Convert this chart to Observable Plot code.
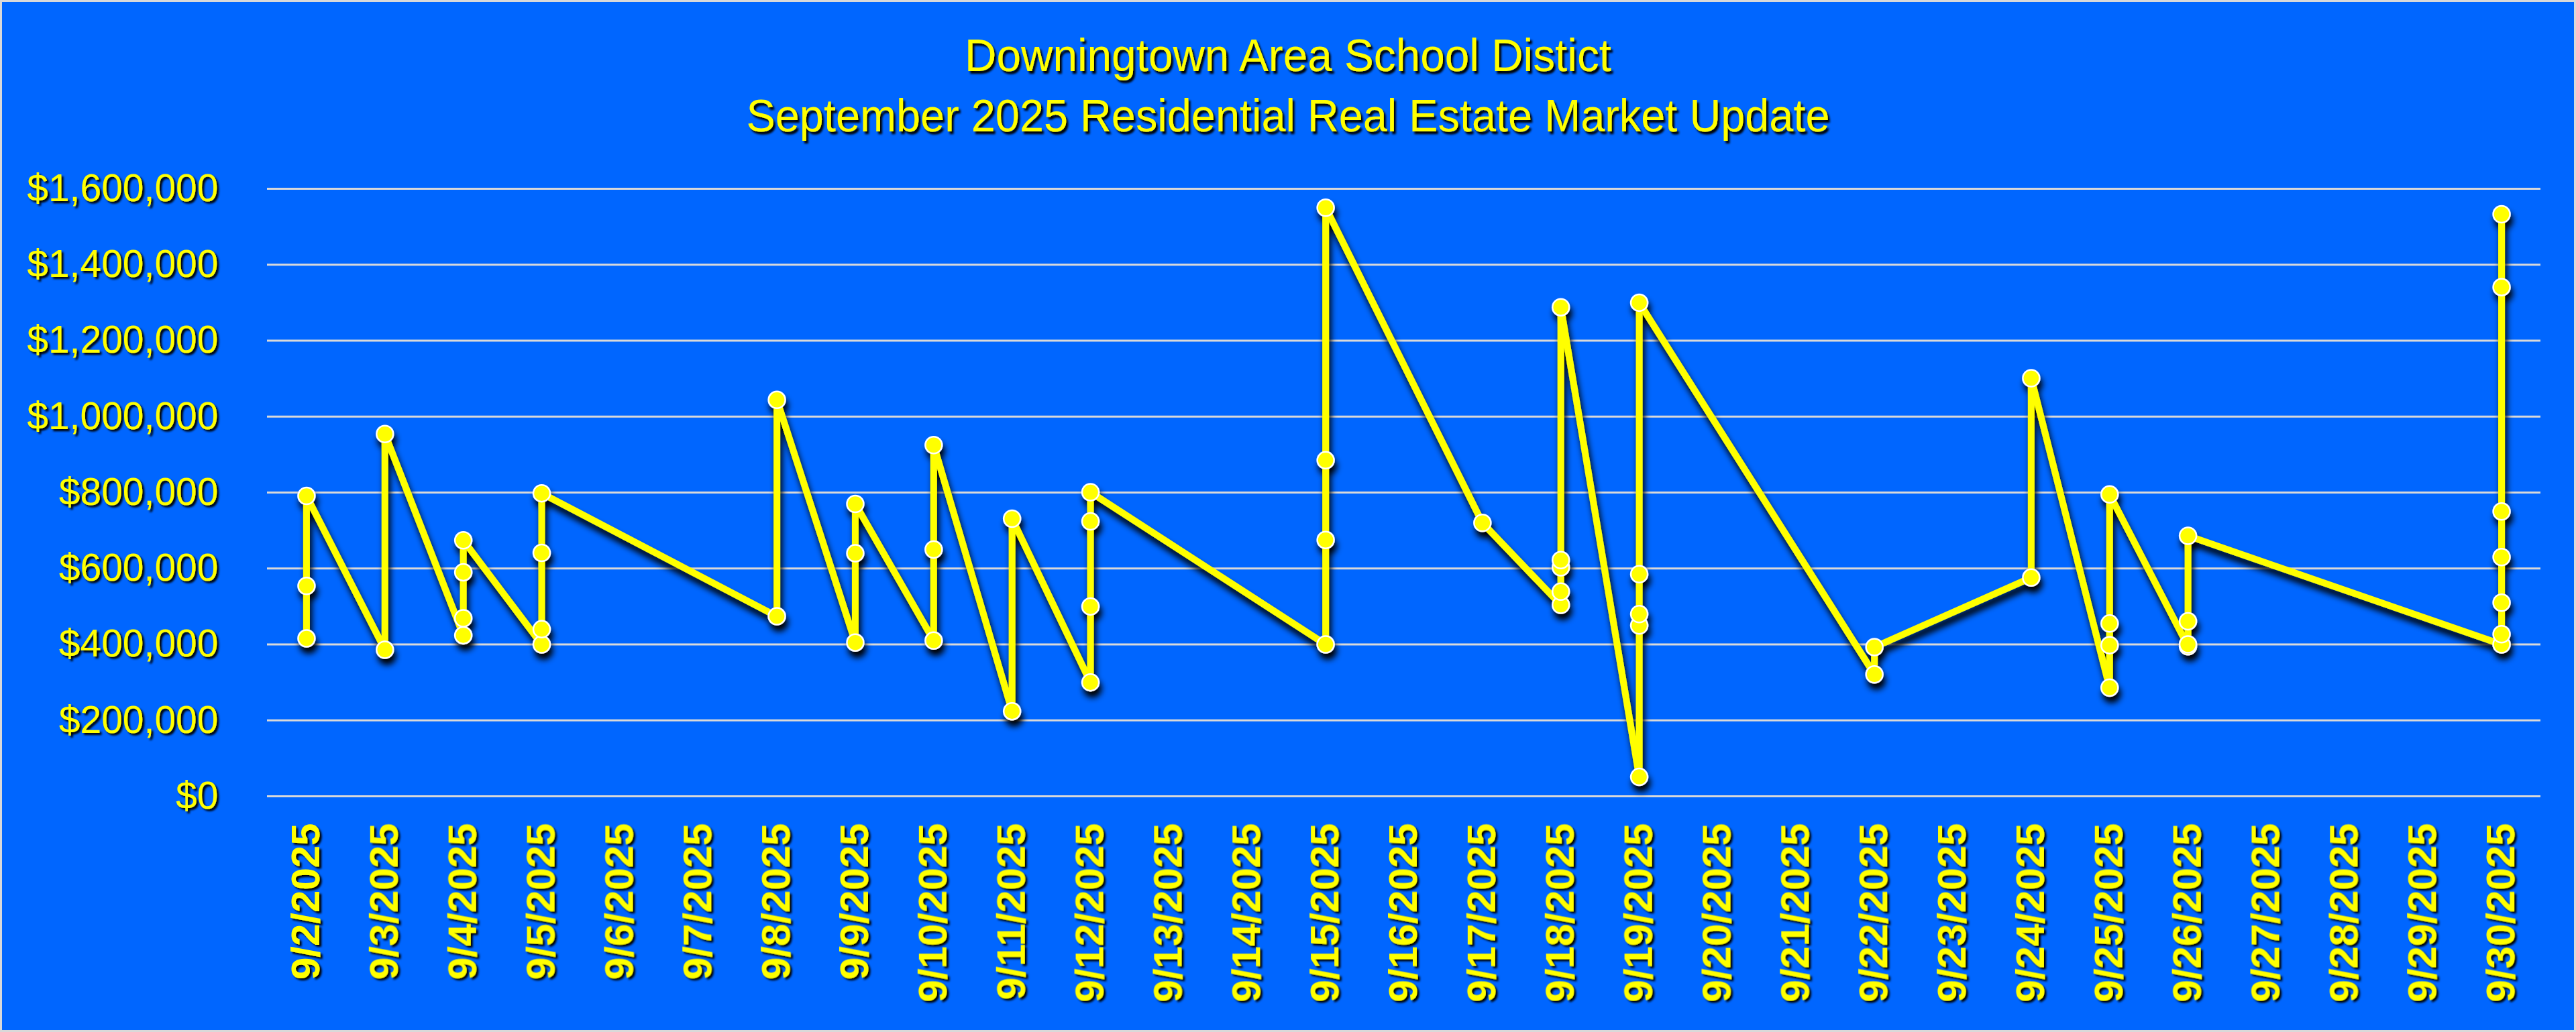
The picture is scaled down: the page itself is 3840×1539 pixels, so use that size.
<!DOCTYPE html>
<html>
<head>
<meta charset="utf-8">
<script src="https://cdn.jsdelivr.net/npm/d3@7"></script>
<script src="https://cdn.jsdelivr.net/npm/@observablehq/plot@0.6"></script>
<style>
  html, body { margin: 0; padding: 0; background: #0066FF; width: 3840px; height: 1539px; overflow: hidden; }
  #frame { position: fixed; left: 0; top: 0; width: 3840px; height: 1539px; box-sizing: border-box; border: 3px solid #D9D9D9; pointer-events: none; }
  svg { display: block; }
</style>
</head>
<body>
<div id="chart"></div>
<div id="frame"></div>
<script>
// ---- data ----
const titleLine1 = "Downingtown Area School Distict";
const titleLine2 = "September 2025 Residential Real Estate Market Update";

const allDates = ["9/2/2025","9/3/2025","9/4/2025","9/5/2025","9/6/2025","9/7/2025","9/8/2025","9/9/2025","9/10/2025","9/11/2025","9/12/2025","9/13/2025","9/14/2025","9/15/2025","9/16/2025","9/17/2025","9/18/2025","9/19/2025","9/20/2025","9/21/2025","9/22/2025","9/23/2025","9/24/2025","9/25/2025","9/26/2025","9/27/2025","9/28/2025","9/29/2025","9/30/2025"];

const saleDates = [
  "9/2/2025","9/2/2025","9/2/2025",
  "9/3/2025","9/3/2025",
  "9/4/2025","9/4/2025","9/4/2025","9/4/2025",
  "9/5/2025","9/5/2025","9/5/2025","9/5/2025",
  "9/8/2025","9/8/2025",
  "9/9/2025","9/9/2025","9/9/2025",
  "9/10/2025","9/10/2025","9/10/2025",
  "9/11/2025","9/11/2025",
  "9/12/2025","9/12/2025","9/12/2025","9/12/2025",
  "9/15/2025","9/15/2025","9/15/2025","9/15/2025",
  "9/17/2025",
  "9/18/2025","9/18/2025","9/18/2025","9/18/2025","9/18/2025",
  "9/19/2025","9/19/2025","9/19/2025","9/19/2025","9/19/2025",
  "9/22/2025","9/22/2025",
  "9/24/2025","9/24/2025",
  "9/25/2025","9/25/2025","9/25/2025","9/25/2025",
  "9/26/2025","9/26/2025","9/26/2025","9/26/2025",
  "9/30/2025","9/30/2025","9/30/2025","9/30/2025","9/30/2025","9/30/2025","9/30/2025"
];

const salePrices = [
  416000, 554000, 791000,
  386000, 954000,
  424000, 469000, 590000, 674000,
  400000, 440000, 641000, 798000,
  474000, 1044000,
  405000, 640000, 770000,
  410000, 650000, 925000,
  224000, 731000,
  300000, 500000, 724000, 801000,
  400000, 675000, 885000, 1550000,
  720000,
  504000, 539000, 603000, 622000, 1288000,
  51000, 450000, 480000, 585000, 1300000,
  321000, 393000,
  576000, 1101000,
  286000, 398000, 455000, 795000,
  395000, 400000, 461000, 686000,
  400000, 427000, 510000, 630000, 750000, 1341000, 1533000
];

const yTicks = [0, 200000, 400000, 600000, 800000, 1000000, 1200000, 1400000, 1600000];

const sales = saleDates.map((d, i) => ({date: d, price: salePrices[i]}));

// ---- title ----
const NS = "http://www.w3.org/2000/svg";
function shadowDefs(svg, id, dx, dy, sd) {
  const defs = document.createElementNS(NS, "defs");
  defs.innerHTML = `<filter id="${id}" x="-20%" y="-20%" width="140%" height="160%"><feDropShadow dx="${dx}" dy="${dy}" stdDeviation="${sd}" flood-color="#000" flood-opacity="1"/></filter>`;
  svg.insertBefore(defs, svg.firstChild);
}

const tsvg = document.createElementNS(NS, "svg");
tsvg.setAttribute("width", 3840);
tsvg.setAttribute("height", 230);
tsvg.style.marginBottom = "-30px";
tsvg.style.overflow = "visible";
shadowDefs(tsvg, "tshadow", 3, 4, 1.5);
[[titleLine1, 106, 964], [titleLine2, 196, 1615]].forEach(([t, y, len]) => {
  const el = document.createElementNS(NS, "text");
  el.setAttribute("x", 1920);
  el.setAttribute("y", y);
  el.setAttribute("text-anchor", "middle");
  el.setAttribute("font-family", "Liberation Sans, Arial, sans-serif");
  el.setAttribute("font-size", 69);
  el.setAttribute("fill", "#FFFF00");
  el.setAttribute("textLength", len);
  el.setAttribute("lengthAdjust", "spacingAndGlyphs");
  el.setAttribute("filter", "url(#tshadow)");
  el.textContent = t;
  tsvg.appendChild(el);
});
document.getElementById("chart").appendChild(tsvg);

// ---- plot ----
const chart = Plot.plot({
  width: 3840,
  height: 1339,
  marginLeft: 398,
  marginRight: 53,
  marginTop: 81,
  marginBottom: 352,
  style: {background: "transparent", color: "#FFFF00", fontFamily: "Liberation Sans, Arial, sans-serif", overflow: "visible"},
  x: {type: "point", domain: allDates, padding: 0.5, round: false, label: null},
  y: {domain: [0, 1600000], label: null},
  marks: [
    Plot.gridY(yTicks, {stroke: "#D9D9D9", strokeOpacity: 1, strokeWidth: 3}),
    Plot.axisY(yTicks, {tickSize: 0, tickPadding: 73, fontSize: 57, fill: "#FFFF00", tickFormat: d => "$" + d3.format(",")(d), label: null}),
    Plot.axisX({tickSize: 0, tickRotate: -90, tickPadding: 40, fontSize: 60, fontWeight: "bold", fill: "#FFFF00", label: null}),
    Plot.line(sales, {x: "date", y: "price", stroke: "#FFFF00", strokeWidth: 10, strokeLinejoin: "miter"}),
    Plot.dot(sales, {x: "date", y: "price", r: 12.5, fill: "#FFFF00", stroke: "white", strokeWidth: 2.5})
  ]
});
document.getElementById("chart").appendChild(chart);

shadowDefs(chart, "lshadow", 3, 9, 5);
shadowDefs(chart, "txshadow", 3, 3, 1.5);
chart.querySelectorAll('g[aria-label="x-axis tick label"], g[aria-label="y-axis tick label"]').forEach(g => g.setAttribute("filter", "url(#txshadow)"));
const lineG = chart.querySelector('g[aria-label="line"]');
const dotG = chart.querySelector('g[aria-label="dot"]');
if (lineG && dotG) {
  const wrap = document.createElementNS(NS, "g");
  wrap.setAttribute("filter", "url(#lshadow)");
  lineG.parentNode.insertBefore(wrap, lineG);
  wrap.appendChild(lineG);
  wrap.appendChild(dotG);
}
</script>
</body>
</html>
